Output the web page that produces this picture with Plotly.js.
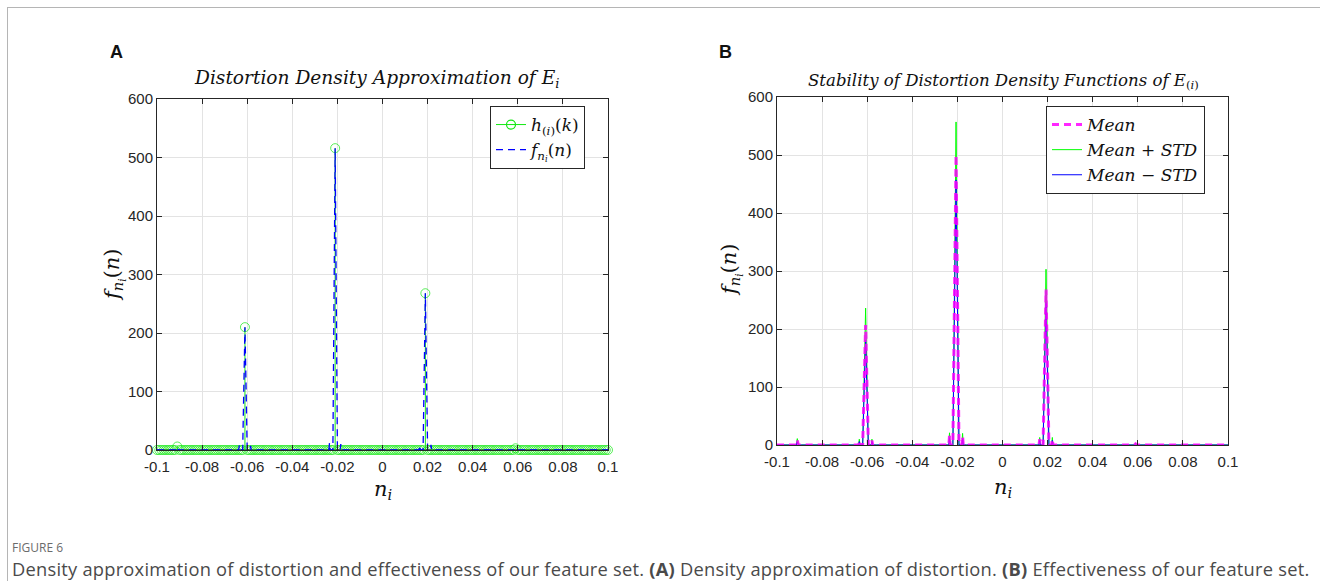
<!DOCTYPE html>
<html>
<head>
<meta charset="utf-8">
<script src="https://cdn.plot.ly/plotly-3.0.1.min.js"></script>
<style>
  html,body{margin:0;padding:0;background:#fff;}
  #wrap{position:relative;width:1320px;height:581px;overflow:hidden;background:#fff;}
  #frame{position:absolute;left:7px;top:7px;width:1320px;height:600px;border-left:1px solid #b5b5b5;border-top:1px solid #b5b5b5;}
  #chart{position:absolute;left:0;top:0;width:1320px;height:581px;}
  .cap{position:absolute;left:12px;white-space:nowrap;font-family:"Open Sans",sans-serif;}
</style>
</head>
<body>
<div id="wrap">
  <div id="frame"></div>
  <div id="chart"></div>
  <div class="cap" id="fig" style="top:541px;font-size:12px;line-height:14px;color:#6b6b6b;">FIGURE 6</div>
  <div class="cap" id="captxt" style="top:560px;font-size:18.3px;line-height:18px;color:#4a4a4a;letter-spacing:0.24px;">Density approximation of distortion and effectiveness of our feature set. <b>(A)</b> Density approximation of distortion. <b>(B)</b> Effectiveness of our feature set.</div>
</div>
<script>
// ---------- Panel A data ----------
// stem grid: bins k from -0.1 to 0.1 (step 0.001); nonzero stems listed explicitly
const stemStep = 0.001;
const stemNonzeroX = [-0.091, -0.061, -0.021, 0.019, 0.059];
const stemNonzeroY = [6, 210, 516, 268, 3];

// density f_ni(n) (blue dashed)
const fAx = [-0.1, -0.093, -0.0915, -0.091, -0.0905, -0.089,
  -0.065, -0.0638, -0.0635, -0.0632, -0.062, -0.061, -0.060, -0.0588, -0.0585, -0.0582, -0.057,
  -0.025, -0.0238, -0.0235, -0.0232, -0.022, -0.021, -0.020, -0.0188, -0.0185, -0.0182, -0.017,
  0.015, 0.0162, 0.0165, 0.0168, 0.018, 0.019, 0.020, 0.0212, 0.0215, 0.0218, 0.023,
  0.057, 0.0585, 0.059, 0.0595, 0.061, 0.1];
const fAy = [0, 0, 0, 5, 0, 0,
  0, 0, 8, 0, 0, 210, 0, 0, 7, 0, 0,
  0, 0, 12, 0, 0, 516, 0, 0, 10, 0, 0,
  0, 0, 8, 0, 0, 268, 0, 0, 9, 0, 0,
  0, 0, 3, 0, 0, 0];

// ---------- Panel B data ----------
const xB = [-0.1, -0.093, -0.0915, -0.091, -0.0905, -0.089,
  -0.065, -0.0638, -0.0635, -0.0632, -0.062, -0.0607, -0.0595, -0.0582, -0.0579, -0.0576, -0.056,
  -0.025, -0.0238, -0.0235, -0.0232, -0.022, -0.0206, -0.0193, -0.018, -0.0177, -0.0174, -0.016,
  0.015, 0.0162, 0.0165, 0.0168, 0.018, 0.0193, 0.0206, 0.0218, 0.0221, 0.0224, 0.024,
  0.057, 0.0585, 0.059, 0.0595, 0.061, 0.1];
const meanB = [0, 0, 0, 8, 0, 0,
  0, 0, 8, 0, 0, 207, 0, 0, 8, 0, 0,
  0, 0, 16, 0, 0, 500, 0, 0, 15, 0, 0,
  0, 0, 10, 0, 0, 268, 0, 0, 10, 0, 0,
  0, 0, 2, 0, 0, 0];
const plusB = [0, 0, 0, 11, 0, 0,
  0, 0, 10, 0, 0, 236, 0, 0, 10, 0, 0,
  0, 0, 21, 0, 0, 557, 0, 0, 20, 0, 0,
  0, 0, 13, 0, 0, 303, 0, 0, 13, 0, 0,
  0, 0, 3, 0, 0, 0];
const minusB = [0, 0, 0, 5, 0, 0,
  0, 0, 6, 0, 0, 181, 0, 0, 6, 0, 0,
  0, 0, 12, 0, 0, 457, 0, 0, 11, 0, 0,
  0, 0, 8, 0, 0, 245, 0, 0, 8, 0, 0,
  0, 0, 1, 0, 0, 0];

// tick labels
const xTickVals = [-0.1, -0.08, -0.06, -0.04, -0.02, 0, 0.02, 0.04, 0.06, 0.08, 0.1];
const xTickText = ["-0.1", "-0.08", "-0.06", "-0.04", "-0.02", "0", "0.02", "0.04", "0.06", "0.08", "0.1"];
const yTickVals = [0, 100, 200, 300, 400, 500, 600];
const yTickText = ["0", "100", "200", "300", "400", "500", "600"];

// ---------- build stems ----------
const stemX = [], stemY = [], stemSize = [];
const nBins = Math.round(0.2 / stemStep);
for (let i = 0; i <= nBins; i++) {
  const k = +(-0.1 + i * stemStep).toFixed(4);
  const j = stemNonzeroX.findIndex(v => Math.abs(v - k) < 1e-9);
  const v = j >= 0 ? stemNonzeroY[j] : 0;
  stemX.push(k, k, null);
  stemY.push(0, v, null);
  stemSize.push(0, 9, 0);
}

const GREEN = '#12e812';
const serif = "DejaVu Serif";
const axisCommon = {
  showline: true, linecolor: '#262626', linewidth: 1, mirror: 'ticks',
  ticks: 'inside', ticklen: 5, tickcolor: '#262626', tickwidth: 1,
  showgrid: true, gridcolor: '#e3e3e3', gridwidth: 1, zeroline: false,
  tickfont: {family: 'Liberation Sans, Arial, sans-serif', size: 15, color: '#262626'},
  fixedrange: true
};

const hName = '<i>h</i><sub>(<i>i</i>)</sub>(<i>k</i>)';
const traces = [
  // stem baseline
  {x: [-0.1, 0.1], y: [0, 0], xaxis: 'x', yaxis: 'y', mode: 'lines', line: {color: '#111', width: 1.5}, showlegend: false, hoverinfo: 'skip'},
  {x: stemX, y: stemY, xaxis: 'x', yaxis: 'y', mode: 'lines+markers', cliponaxis: false,
   line: {color: GREEN, width: 1},
   marker: {symbol: 'circle-open', size: stemSize, color: GREEN, line: {width: 1, color: GREEN}},
   name: hName, legend: 'legend', legendgroup: 'h', showlegend: false, connectgaps: false},
  // legend entry for the stems (line + circle symbol)
  {x: [null], y: [null], xaxis: 'x', yaxis: 'y', mode: 'lines+markers',
   line: {color: GREEN, width: 1},
   marker: {symbol: 'circle-open', size: 9, color: GREEN, line: {width: 1.2, color: GREEN}},
   name: hName, legend: 'legend', legendgroup: 'h'},
  {x: fAx, y: fAy, xaxis: 'x', yaxis: 'y', mode: 'lines', line: {color: '#0000ff', width: 1.3, dash: '7px,5px'},
   name: '<i>f</i><sub><i>n<sub>i</sub></i></sub>(<i>n</i>)', legend: 'legend'},
  // panel B
  {x: xB, y: plusB, xaxis: 'x2', yaxis: 'y2', mode: 'lines', line: {color: '#00ff00', width: 1},
   name: '<i>Mean</i> + <i>STD</i>', legend: 'legend2', legendrank: 2},
  {x: xB, y: minusB, xaxis: 'x2', yaxis: 'y2', mode: 'lines', line: {color: '#0000ff', width: 1},
   name: '<i>Mean</i> − <i>STD</i>', legend: 'legend2', legendrank: 3},
  {x: xB, y: meanB, xaxis: 'x2', yaxis: 'y2', mode: 'lines', line: {color: '#ff00ff', width: 3, dash: '7px,5px'},
   opacity: 0.85, name: '<i>Mean</i>', legend: 'legend2', legendrank: 1}
];

const legendCommon = {
  bgcolor: 'white', bordercolor: '#262626', borderwidth: 1,
  font: {family: serif, size: 17, color: '#111'},
  xanchor: 'left', yanchor: 'top', tracegroupgap: 0, itemwidth: 30
};

const layout = {
  width: 1320, height: 581,
  margin: {l: 0, r: 0, t: 0, b: 0},
  paper_bgcolor: 'rgba(0,0,0,0)', plot_bgcolor: 'white',
  xaxis: Object.assign({}, axisCommon, {domain: [157/1320, 608/1320], range: [-0.1, 0.1], anchor: 'y', tickvals: xTickVals, ticktext: xTickText, ticklabelstandoff: 3}),
  yaxis: Object.assign({}, axisCommon, {domain: [131/581, 482/581], range: [0, 600], anchor: 'x', tickvals: yTickVals, ticktext: yTickText}),
  xaxis2: Object.assign({}, axisCommon, {domain: [777/1320, 1228/1320], range: [-0.1, 0.1], anchor: 'y2', tickvals: xTickVals, ticktext: xTickText, ticklabelstandoff: 3}),
  yaxis2: Object.assign({}, axisCommon, {domain: [136/581, 484/581], range: [0, 600], anchor: 'x2', tickvals: yTickVals, ticktext: yTickText}),
  legend: Object.assign({}, legendCommon, {x: 490/1320, y: 1 - 106/581, traceorder: 'normal'}),
  legend2: Object.assign({}, legendCommon, {x: 1046/1320, y: 1 - 106/581, traceorder: 'normal'}),
  annotations: [
    {text: '<b>A</b>', x: 108/1320, y: 1 - 52/581, xref: 'paper', yref: 'paper', xanchor: 'left', yanchor: 'middle', showarrow: false,
     font: {family: 'Liberation Sans, Arial, sans-serif', size: 18, color: '#111'}},
    {text: '<b>B</b>', x: 717/1320, y: 1 - 52/581, xref: 'paper', yref: 'paper', xanchor: 'left', yanchor: 'middle', showarrow: false,
     font: {family: 'Liberation Sans, Arial, sans-serif', size: 18, color: '#111'}},
    {text: '<i>Distortion Density Approximation of E</i><sub><i>i</i></sub>', x: 376/1320, y: 1 - 79/581, xref: 'paper', yref: 'paper', xanchor: 'center', yanchor: 'middle', showarrow: false,
     font: {family: serif, size: 18.6, color: '#111'}},
    {text: '<i>Stability of Distortion Density Functions of E</i><sub>(<i>i</i>)</sub>', x: 1003/1320, y: 1 - 81/581, xref: 'paper', yref: 'paper', xanchor: 'center', yanchor: 'middle', showarrow: false,
     font: {family: serif, size: 16.6, color: '#111'}},
    {text: '<i>f</i><sub><i>n<sub>i</sub></i></sub>(<i>n</i>)', x: 114/1320, y: 1 - 275/581, xref: 'paper', yref: 'paper', xanchor: 'center', yanchor: 'middle', textangle: -90, showarrow: false,
     font: {family: serif, size: 21, color: '#111'}},
    {text: '<i>f</i><sub><i>n<sub>i</sub></i></sub>(<i>n</i>)', x: 731/1320, y: 1 - 270/581, xref: 'paper', yref: 'paper', xanchor: 'center', yanchor: 'middle', textangle: -90, showarrow: false,
     font: {family: serif, size: 21, color: '#111'}},
    {text: '<i>n</i><sub><i>i</i></sub>', x: 383/1320, y: 1 - 490/581, xref: 'paper', yref: 'paper', xanchor: 'center', yanchor: 'middle', showarrow: false,
     font: {family: serif, size: 21, color: '#111'}},
    {text: '<i>n</i><sub><i>i</i></sub>', x: 1003/1320, y: 1 - 488/581, xref: 'paper', yref: 'paper', xanchor: 'center', yanchor: 'middle', showarrow: false,
     font: {family: serif, size: 21, color: '#111'}}
  ]
};

Plotly.newPlot('chart', traces, layout, {staticPlot: true, displayModeBar: false});
</script>
</body>
</html>
